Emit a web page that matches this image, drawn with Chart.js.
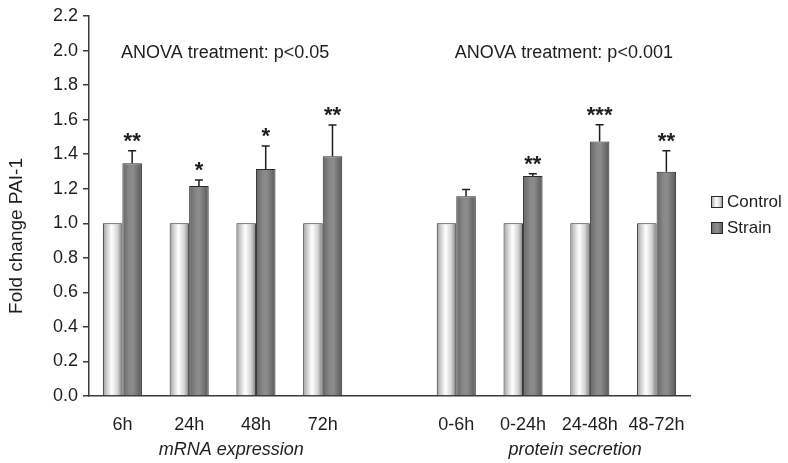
<!DOCTYPE html>
<html>
<head>
<meta charset="utf-8">
<script src="https://cdn.jsdelivr.net/npm/chart.js@4.4.1/dist/chart.umd.min.js"></script>
<style>
  html, body { margin: 0; padding: 0; background: #ffffff; }
  #wrap { width: 788px; height: 463px; position: relative; }
</style>
</head>
<body>
<div id="wrap"><canvas id="c" width="788" height="463"></canvas></div>
<script>
// ---- data ----
const categories = ['6h', '24h', '48h', '72h', '', '0-6h', '0-24h', '24-48h', '48-72h'];
const controlValues = [1.0, 1.0, 1.0, 1.0, null, 1.0, 1.0, 1.0, 1.0];
const strainValues  = [1.347, 1.216, 1.314, 1.388, null, 1.156, 1.274, 1.473, 1.299];
const strainErrorTop = [1.42, 1.25, 1.448, 1.569, null, 1.195, 1.287, 1.571, 1.42];
const significance = ['**', '*', '*', '**', '', '', '**', '***', '**'];
const yTicks = [0.0, 0.2, 0.4, 0.6, 0.8, 1.0, 1.2, 1.4, 1.6, 1.8, 2.0, 2.2];
const groupLabels = ['mRNA expression', 'protein secretion'];
const groupLabelPos = [1.63, 6.78];
const anovaTexts = ['ANOVA treatment: p<0.05', 'ANOVA treatment: p<0.001'];
const anovaPos = [1.54, 6.61];
const seriesNames = ['Control', 'Strain'];
const yTitle = 'Fold change PAI-1';

const FONT = '"Liberation Sans", Arial, Helvetica, sans-serif';
const CAT_PCT = 0.585;

function barGradient(ctx, left, right, stops) {
  const g = ctx.createLinearGradient(left, 0, right, 0);
  stops.forEach(s => g.addColorStop(s[0], s[1]));
  return g;
}
const controlStops = [[0, '#9a9a9a'], [0.18, '#cacaca'], [0.45, '#ffffff'], [0.75, '#d4d4d4'], [1, '#7c7c7c']];
const strainStops = [[0, '#666666'], [0.35, '#888888'], [0.55, '#8c8c8c'], [1, '#585858']];

function scriptedFill(stops, which) {
  return function (context) {
    const chart = context.chart;
    const xs = chart.scales && chart.scales.x;
    if (!xs || !chart.chartArea || context.dataIndex === undefined) return stops[2][1];
    const catW = xs.width / categories.length;
    const center = xs.getPixelForValue(context.dataIndex);
    const bw = catW * CAT_PCT / 2;
    const left = which === 0 ? center - bw : center;
    const right = which === 0 ? center : center + bw;
    return barGradient(chart.ctx, left, right, stops);
  };
}

const overlayPlugin = {
  id: 'overlay',
  afterDatasetsDraw(chart) {
    const ctx = chart.ctx;
    const xs = chart.scales.x, ys = chart.scales.y;
    const meta = chart.getDatasetMeta(1);
    ctx.save();
    // error bars
    ctx.strokeStyle = '#1e1e1e';
    ctx.lineWidth = 1.5;
    meta.data.forEach((el, i) => {
      if (strainErrorTop[i] == null) return;
      const yTop = ys.getPixelForValue(strainErrorTop[i]);
      const yBar = ys.getPixelForValue(strainValues[i]);
      ctx.beginPath();
      ctx.moveTo(el.x, yBar);
      ctx.lineTo(el.x, yTop);
      ctx.moveTo(el.x - 4, yTop);
      ctx.lineTo(el.x + 4, yTop);
      ctx.stroke();
      if (significance[i]) {
        ctx.fillStyle = '#1e1e1e';
        ctx.font = 'bold 22px ' + FONT;
        ctx.textAlign = 'center';
        ctx.textBaseline = 'alphabetic';
        ctx.fillText(significance[i], el.x, yTop - 3);
      }
    });
    // group labels & anova annotations
    const catW = xs.width / categories.length;
    ctx.fillStyle = '#1e1e1e';
    ctx.textAlign = 'center';
    ctx.textBaseline = 'middle';
    ctx.font = 'italic 18px ' + FONT;
    groupLabels.forEach((t, k) => {
      ctx.fillText(t, xs.left + (groupLabelPos[k] + 0.5) * catW, 450);
    });
    ctx.font = '18px ' + FONT;
    anovaTexts.forEach((t, k) => {
      ctx.fillText(t, xs.left + (anovaPos[k] + 0.5) * catW, 53);
    });
    // y axis title
    ctx.save();
    ctx.translate(17, 236);
    ctx.rotate(-Math.PI / 2);
    ctx.font = '19px ' + FONT;
    ctx.textAlign = 'center';
    ctx.textBaseline = 'middle';
    ctx.fillText(yTitle, 0, 0);
    ctx.restore();
    // legend
    const lx = 711;
    const ly = [196, 222];
    ctx.textAlign = 'left';
    ctx.textBaseline = 'middle';
    ctx.font = '17px ' + FONT;
    [controlStops, strainStops].forEach((stops, k) => {
      ctx.fillStyle = barGradient(ctx, lx, lx + 12, stops);
      ctx.fillRect(lx, ly[k], 12, 12);
      ctx.strokeStyle = '#2a2a2a';
      ctx.lineWidth = 1;
      ctx.strokeRect(lx + 0.5, ly[k] + 0.5, 11, 11);
      ctx.fillStyle = '#1e1e1e';
      ctx.fillText(seriesNames[k], lx + 16, ly[k] + 6.5);
    });
    ctx.restore();
  }
};

new Chart(document.getElementById('c'), {
  type: 'bar',
  data: {
    labels: categories,
    datasets: [
      {
        label: seriesNames[0],
        data: controlValues,
        backgroundColor: scriptedFill(controlStops, 0),
        borderColor: '#2a2a2a',
        borderWidth: 1,
        borderSkipped: 'bottom',
        categoryPercentage: CAT_PCT,
        barPercentage: 1.0
      },
      {
        label: seriesNames[1],
        data: strainValues,
        backgroundColor: scriptedFill(strainStops, 1),
        borderColor: '#2a2a2a',
        borderWidth: 1,
        borderSkipped: 'bottom',
        categoryPercentage: CAT_PCT,
        barPercentage: 1.0
      }
    ]
  },
  options: {
    responsive: false,
    animation: false,
    devicePixelRatio: 1,
    layout: { padding: { left: 0, right: 98, top: 16, bottom: 0 } },
    plugins: {
      legend: { display: false },
      tooltip: { enabled: false }
    },
    scales: {
      x: {
        grid: { display: false },
        border: { display: true, color: '#3a3a3a', width: 1.5 },
        ticks: { color: '#1e1e1e', font: { family: FONT, size: 18 }, padding: 10, maxRotation: 0, autoSkip: false },
        afterFit(scale) { scale.height = 67; }
      },
      y: {
        min: 0,
        max: 2.2,
        afterBuildTicks(scale) { scale.ticks = yTicks.map(v => ({ value: v })); },
        grid: { display: true, drawOnChartArea: false, drawTicks: true, tickLength: 6, color: '#3a3a3a', lineWidth: 1.5 },
        border: { display: true, color: '#3a3a3a', width: 1.5 },
        ticks: {
          color: '#1e1e1e',
          font: { family: FONT, size: 18 },
          padding: 5,
          callback: v => Number(v).toFixed(1)
        },
        title: { display: false },
        afterFit(scale) { scale.width = 89; }
      }
    }
  },
  plugins: [overlayPlugin]
});
</script>
</body>
</html>
